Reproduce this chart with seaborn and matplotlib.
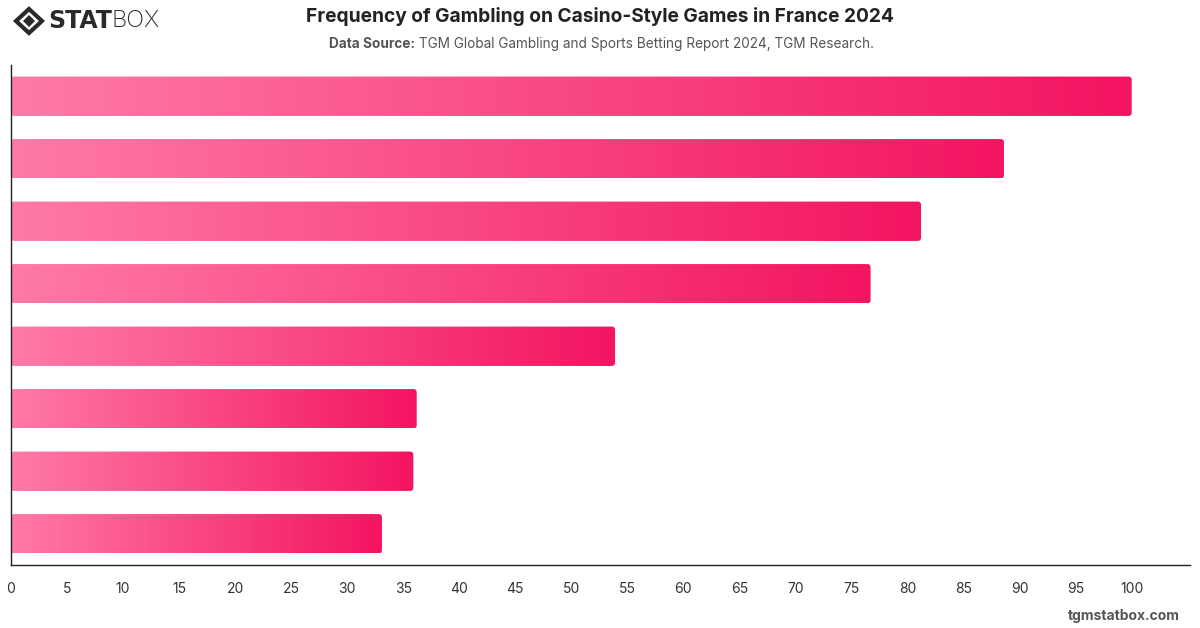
import numpy as np
import pandas as pd
import matplotlib
matplotlib.use("Agg")
import matplotlib.pyplot as plt
import seaborn as sns
from matplotlib.patches import FancyBboxPatch, Polygon
from matplotlib.colors import LinearSegmentedColormap

categories = ["Cat 1", "Cat 2", "Cat 3", "Cat 4", "Cat 5", "Cat 6", "Cat 7", "Cat 8"]
values = [100, 88.6, 81.2, 76.7, 53.9, 36.2, 35.9, 33.1]
xticks = list(range(0, 101, 5))

title = "Frequency of Gambling on Casino-Style Games in France 2024"
source_bold = "Data Source:"
source_rest = " TGM Global Gambling and Sports Betting Report 2024, TGM Research."

sns.set_theme(style="white")
plt.rcParams['font.family'] = ['Inter', 'DejaVu Sans']

fig = plt.figure(figsize=(12, 6.28), dpi=100)
ax = fig.add_axes([11/1200, 1 - 565/628, (1190-11)/1200, 500/628])

df = pd.DataFrame({"cat": categories, "val": values})
sns.barplot(data=df, x="val", y="cat", ax=ax, width=0.63, color="#ff5a8f", orient="h")

ax.set_xlim(0, 105.2)
ax.set_ylim(7.5, -0.5)

cmap = LinearSegmentedColormap.from_list("g", ["#ff7aa6", "#f31462"])
grad = np.linspace(0, 1, 256).reshape(1, -1)
for p in list(ax.patches):
    x0, y0 = p.get_x(), p.get_y()
    w, h = p.get_width(), p.get_height()
    p.set_visible(False)
    clip = FancyBboxPatch((x0, y0), w, h,
                          boxstyle="round,pad=0,rounding_size=0.3",
                          mutation_aspect=(h / 39) * 11.2,
                          transform=ax.transData, facecolor="none", edgecolor="none")
    ax.add_patch(clip)
    im = ax.imshow(grad, cmap=cmap, aspect="auto", extent=(x0, x0 + w, y0 + h, y0),
                   interpolation="bilinear", zorder=2)
    im.set_clip_path(clip)

ax.set_xlim(0, 105.2)
ax.set_ylim(7.5, -0.5)

ax.set_xticks(xticks)
ax.set_xticklabels([str(t) for t in xticks], fontsize=10, color="#333333")
for lbl in ax.get_xticklabels():
    lbl.set_x(lbl.get_position()[0])
ax.tick_params(axis="x", length=0, pad=12)
ax.set_yticks([])
ax.set_xlabel("")
ax.set_ylabel("")
for s in ["top", "right"]:
    ax.spines[s].set_visible(False)
for s in ["left", "bottom"]:
    ax.spines[s].set_color("#222222")
    ax.spines[s].set_linewidth(1.0)

fig.text(0.5, 1 - 17/628, title, ha="center", va="center", fontsize=13.8,
         fontweight="bold", color="#222222")
t1 = fig.text(0.5, 1 - 44/628, source_bold + source_rest, ha="center", va="center",
              fontsize=9.8, color="#555555", alpha=0)
fig.canvas.draw()
r = fig.canvas.get_renderer()
bb = t1.get_window_extent(r)
tb = fig.text(bb.x0 / 1200, 1 - 44/628, source_bold, ha="left", va="center",
              fontsize=9.8, fontweight="bold", color="#555555")
bb2 = tb.get_window_extent(r)
fig.text(bb2.x1 / 1200, 1 - 44/628, source_rest, ha="left", va="center",
         fontsize=9.8, color="#555555")

# logo
cx, cy = 29/1200, 1 - 21/628
sx, sy = 1/1200, 1/628
outer = [(cx - 13*sx, cy), (cx, cy + 12*sy), (cx + 13*sx, cy), (cx, cy - 12*sy)]
fig.patches.append(Polygon(outer, closed=True, transform=fig.transFigure,
                           facecolor="none", edgecolor="#2a2a2a", linewidth=3.0))
inner = [(cx - 6*sx, cy), (cx, cy + 6*sy), (cx + 6*sx, cy), (cx, cy - 6*sy)]
fig.patches.append(Polygon(inner, closed=True, transform=fig.transFigure,
                           facecolor="#2a2a2a", edgecolor="none"))
ts = fig.text(48/1200, cy, "STAT", ha="left", va="center", fontsize=17,
              fontweight="black", color="#2a2a2a", family=["DejaVu Sans"])
fig.canvas.draw()
bs = ts.get_window_extent(r)
fig.text(bs.x1 / 1200, cy, "BOX", ha="left", va="center", fontsize=17,
         fontweight="light", color="#2a2a2a", family=["Inter", "DejaVu Sans"])

fig.text(1180/1200, 1 - 616/628, "tgmstatbox.com", ha="right", va="center",
         fontsize=10, fontweight="bold", color="#555555")

fig.savefig("out.png", dpi=100, facecolor="white")
